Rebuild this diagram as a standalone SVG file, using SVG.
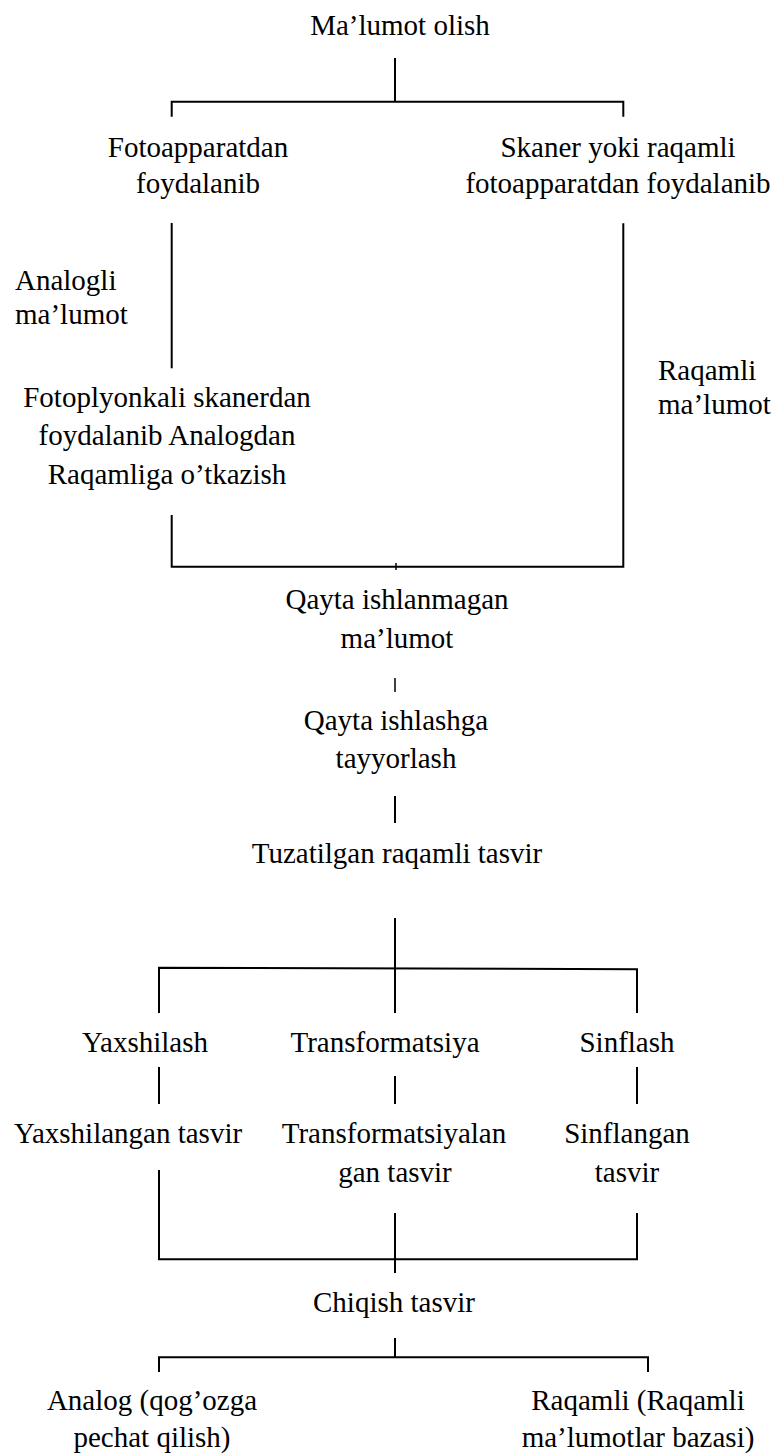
<svg xmlns="http://www.w3.org/2000/svg" width="774" height="1454" viewBox="0 0 774 1454" font-family="Liberation Serif, Times New Roman, serif" font-size="29">
<style>
.c{text-anchor:middle}
.s{text-anchor:start}
.ln{fill:none;stroke:#000;stroke-width:2}
.thin{fill:none;stroke:#000;stroke-width:1.5}
</style>
<rect width="774" height="1454" fill="#fff"/>
<g id="connectors">
<path class="ln" d="M395 58V101.7"/>
<path class="ln" d="M171.7 116.7V101.7H623.3V116.7"/>
<path class="ln" d="M171.7 223V368.3"/>
<path class="ln" d="M171.7 515V566.7H623.3V223.3"/>
<path class="thin" d="M396 563V570"/>
<path class="thin" d="M395 678V692"/>
<path class="ln" d="M395 796V823"/>
<path class="ln" d="M395 918V1013"/>
<path class="ln" d="M159 1013V967.7L637 969.3V1013"/>
<path class="ln" d="M159 1067V1104M395 1076V1104M637 1067V1104"/>
<path class="ln" d="M159 1170V1259.3H637V1213M395 1213V1273"/>
<path class="ln" d="M395 1338V1357.3M159 1372V1357.3H648V1372"/>
</g>
<g font-family="Liberation Serif, serif" fill="#000">
<g id="n1"><text class="c" x="400" y="35">Ma’lumot olish</text></g>
<g id="n2"><text class="c" x="198" y="157">Fotoapparatdan</text><text class="c" x="198" y="193">foydalanib</text></g>
<g id="n3"><text class="c" x="618" y="157">Skaner yoki raqamli</text><text class="c" x="618" y="193">fotoapparatdan foydalanib</text></g>
<g id="l1"><text class="s" x="15" y="290">Analogli</text><text class="s" x="15" y="324">ma’lumot</text></g>
<g id="n4"><text class="c" x="167" y="407">Fotoplyonkali skanerdan</text><text class="c" x="167" y="445">foydalanib Analogdan</text><text class="c" x="167" y="484">Raqamliga o’tkazish</text></g>
<g id="l2"><text class="s" x="658" y="380">Raqamli</text><text class="s" x="658" y="414">ma’lumot</text></g>
<g id="n5"><text class="c" x="397" y="609">Qayta ishlanmagan</text><text class="c" x="397" y="648">ma’lumot</text></g>
<g id="n6"><text class="c" x="396" y="730">Qayta ishlashga</text><text class="c" x="396" y="768">tayyorlash</text></g>
<g id="n7"><text class="c" x="397" y="863">Tuzatilgan raqamli tasvir</text></g>
<g id="n8"><text class="c" x="145" y="1052">Yaxshilash</text></g>
<g id="n9"><text class="c" x="385" y="1052">Transformatsiya</text></g>
<g id="n10"><text class="c" x="627" y="1052">Sinflash</text></g>
<g id="n11"><text class="c" x="128" y="1143">Yaxshilangan tasvir</text></g>
<g id="n12"><text class="c" x="394" y="1143">Transformatsiyalan</text><text class="c" x="395" y="1182">gan tasvir</text></g>
<g id="n13"><text class="c" x="627" y="1143">Sinflangan</text><text class="c" x="627" y="1182">tasvir</text></g>
<g id="n14"><text class="c" x="394" y="1312">Chiqish tasvir</text></g>
<g id="n15"><text class="c" x="152" y="1410">Analog (qog’ozga</text><text class="c" x="152" y="1447">pechat qilish)</text></g>
<g id="n16"><text class="c" x="638" y="1410">Raqamli (Raqamli</text><text class="c" x="638" y="1447">ma’lumotlar bazasi)</text></g>
</g>
</svg>
